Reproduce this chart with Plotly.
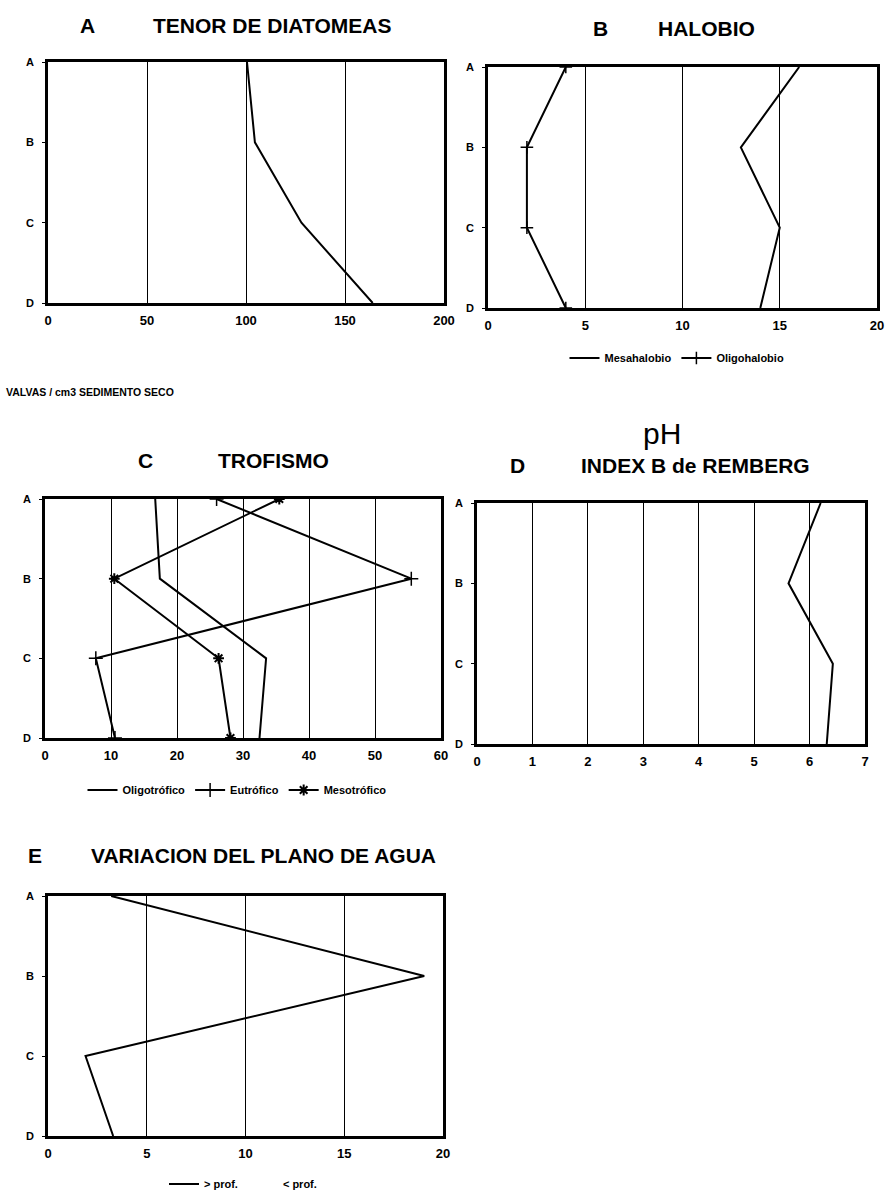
import plotly.graph_objects as go

W, H = 885, 1195

# ---------------- data ----------------
levels = ["A", "B", "C", "D"]

diatomeas = [100.5, 104.5, 128, 164]            # valvas / cm3 sedimento seco
mesahalobio = [16, 13, 15, 14]
oligohalobio = [4, 2, 2, 4]
oligotrofico = [16.7, 17.4, 33.5, 32.5]
eutrofico = [26.0, 55.5, 7.7, 10.6]
mesotrofico = [35.5, 10.5, 26.3, 28.1]
remberg_ph = [6.2, 5.62, 6.42, 6.31]
mayor_prof = [3.2, 19.05, 1.9, 3.3]
menor_prof = [None, None, None, None]

FONT = "Liberation Sans"


def px_x(l, r):
    return [l / W, r / W]


def px_y(t, b):
    return [1 - b / H, 1 - t / H]


fig = go.Figure()

LINE = dict(color="black", width=2)

# Panel A
fig.add_trace(go.Scatter(x=diatomeas, y=levels, mode="lines", line=LINE,
                         showlegend=False, xaxis="x", yaxis="y"))
# Panel B
fig.add_trace(go.Scatter(x=mesahalobio, y=levels, mode="lines", line=LINE,
                         name="Mesahalobio", legend="legend", xaxis="x2", yaxis="y2"))
fig.add_trace(go.Scatter(x=oligohalobio, y=levels, mode="lines+markers", line=LINE,
                         marker=dict(symbol="cross-thin-open", size=9,
                                     line=dict(width=1.5, color="black")),
                         name="Oligohalobio", legend="legend", xaxis="x2", yaxis="y2"))
# Panel C
fig.add_trace(go.Scatter(x=oligotrofico, y=levels, mode="lines", line=LINE,
                         name="Oligotrófico", legend="legend2", xaxis="x3", yaxis="y3"))
fig.add_trace(go.Scatter(x=eutrofico, y=levels, mode="lines+markers", line=LINE,
                         marker=dict(symbol="cross-thin-open", size=10,
                                     line=dict(width=1.5, color="black")),
                         name="Eutrófico", legend="legend2", xaxis="x3", yaxis="y3"))
fig.add_trace(go.Scatter(x=mesotrofico, y=levels, mode="lines+markers", line=LINE,
                         marker=dict(symbol="asterisk-open", size=9,
                                     line=dict(width=2, color="black")),
                         name="Mesotrófico", legend="legend2", xaxis="x3", yaxis="y3"))
# Panel D
fig.add_trace(go.Scatter(x=remberg_ph, y=levels, mode="lines", line=LINE,
                         showlegend=False, xaxis="x4", yaxis="y4"))
# Panel E
fig.add_trace(go.Scatter(x=mayor_prof, y=levels, mode="lines", line=LINE,
                         name="> prof.", legend="legend3", xaxis="x5", yaxis="y5"))
fig.add_trace(go.Scatter(x=menor_prof, y=levels, mode="lines",
                         line=dict(color="rgba(0,0,0,0)", width=2),
                         name="< prof.", legend="legend3", xaxis="x5", yaxis="y5"))

panels = [
    # suffix, x px (l, r), y px (t, b), xmax, dtick
    ("", (48, 444), (62, 303), 200, 50),
    ("2", (488, 877), (67, 308), 20, 5),
    ("3", (45, 441), (499, 738), 60, 10),
    ("4", (477, 865), (503, 744), 7, 1),
    ("5", (48, 443), (896, 1136), 20, 5),
]

tickfont = dict(family=FONT, size=13, color="black", weight="bold")
ytickfont = dict(family=FONT, size=11, color="black", weight="bold")

for suf, (xl, xr), (yt, yb), xmax, dt in panels:
    fig.update_layout(**{
        "xaxis" + suf: dict(
            domain=px_x(xl, xr), anchor="y" + suf, range=[0, xmax], dtick=dt, tick0=0,
            showgrid=True, gridcolor="black", gridwidth=1.2, zeroline=False,
            showline=True, linecolor="black", linewidth=2.5, mirror=True,
            ticks="", tickfont=tickfont, ticklabelstandoff=4, fixedrange=True,
            automargin=False,
        ),
        "yaxis" + suf: dict(
            domain=px_y(yt, yb), anchor="x" + suf, type="category",
            categoryorder="array", categoryarray=levels, range=[3, 0],
            showgrid=False, zeroline=False, showline=True, linecolor="black",
            linewidth=2.5, mirror=True, ticks="outside", ticklen=3, tickcolor="black",
            tickfont=ytickfont, ticklabelstandoff=6, fixedrange=True,
            automargin=False,
        ),
    })

legfont = dict(family=FONT, size=11, color="black", weight="bold")
fig.update_layout(
    legend=dict(orientation="h", x=677 / W, y=1 - 358 / H, xanchor="center", yanchor="middle",
                font=legfont, bgcolor="rgba(0,0,0,0)", itemwidth=30),
    legend2=dict(orientation="h", x=237 / W, y=1 - 790 / H, xanchor="center", yanchor="middle",
                 font=legfont, bgcolor="rgba(0,0,0,0)", itemwidth=30),
    legend3=dict(orientation="h", x=243 / W, y=1 - 1184 / H, xanchor="center", yanchor="middle",
                 font=legfont, bgcolor="rgba(0,0,0,0)", itemwidth=30),
)

titlefont = dict(family=FONT, size=21, color="black", weight="bold")
texts = [
    ("A", 87, 25, titlefont),
    ("TENOR DE DIATOMEAS", 272, 25, titlefont),
    ("B", 600, 28, titlefont),
    ("HALOBIO", 706, 28, titlefont),
    ("C", 145, 460, titlefont),
    ("TROFISMO", 273, 460, titlefont),
    ("pH", 662, 433, dict(family=FONT, size=30, color="black")),
    ("D", 517, 465, titlefont),
    ("INDEX B de REMBERG", 695, 465, titlefont),
    ("E", 35, 855, titlefont),
    ("VARIACION DEL PLANO DE AGUA", 263, 855, titlefont),
    ("VALVAS / cm3 SEDIMENTO SECO", 90, 392, dict(family=FONT, size=10.5, color="black", weight="bold")),
]
fig.update_layout(annotations=[
    dict(text=t, x=x / W, y=1 - y / H, xref="paper", yref="paper", showarrow=False,
         xanchor="center", yanchor="middle", font=f)
    for t, x, y, f in texts
])

fig.update_layout(width=W, height=H, margin=dict(l=0, r=0, t=0, b=0, autoexpand=False),
                  paper_bgcolor="white", plot_bgcolor="white")

fig.write_html("out.html", config={"displayModeBar": False},
               post_script="document.body.style.margin='0px';document.body.style.overflow='hidden';")
